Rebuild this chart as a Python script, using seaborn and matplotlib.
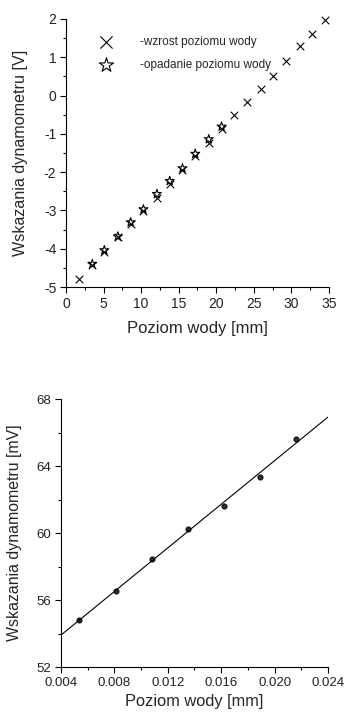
import numpy as np
import pandas as pd
import seaborn as sns
import matplotlib.pyplot as plt
from matplotlib.ticker import MultipleLocator, FormatStrFormatter

# gorny wykres - wzrost poziomu wody (x) i opadanie (gwiazdki)
wzrost_x = [1.7, 3.5, 5.1, 6.9, 8.6, 10.3, 12.1, 13.8, 15.5, 17.2, 19.0, 20.7,
            22.4, 24.1, 25.9, 27.6, 29.3, 31.1, 32.8, 34.5]
wzrost_y = [-4.79, -4.43, -4.09, -3.70, -3.36, -3.01, -2.68, -2.30, -1.94, -1.59,
            -1.25, -0.86, -0.52, -0.17, 0.16, 0.50, 0.89, 1.29, 1.61, 1.98]
opad_x = [3.5, 5.1, 6.9, 8.6, 10.3, 12.1, 13.8, 15.5, 17.2, 19.0, 20.7]
opad_y = [-4.40, -4.04, -3.68, -3.31, -2.97, -2.57, -2.23, -1.90, -1.52, -1.14, -0.81]

# dolny wykres
poziom = [0.00537, 0.00809, 0.01081, 0.01353, 0.01622, 0.01891, 0.02161]
wskazania = [54.79, 56.56, 58.46, 60.25, 61.64, 63.36, 65.65]

sns.set_style("ticks")
plt.rcParams['font.family'] = ['Liberation Sans', 'DejaVu Sans']
plt.rcParams['axes.unicode_minus'] = False

fig = plt.figure(figsize=(3.45, 7.14), dpi=100)
ax1 = fig.add_axes([0.1913, 0.598, 0.7623, 0.3754])
ax2 = fig.add_axes([0.1768, 0.0658, 0.7739, 0.375])

df_w = pd.DataFrame({"x": wzrost_x, "y": wzrost_y})
df_o = pd.DataFrame({"x": opad_x, "y": opad_y})
sns.scatterplot(data=df_w, x="x", y="y", marker="x", s=30, color="black",
                linewidth=0.8, ax=ax1, label="-wzrost poziomu wody", clip_on=False)
sns.scatterplot(data=df_o, x="x", y="y", marker="*", s=45, facecolor="none",
                edgecolor="black", linewidth=0.8, ax=ax1,
                label="-opadanie poziomu wody")
ax1.set_xlim(0, 35)
ax1.set_ylim(-5, 2)
ax1.xaxis.set_major_locator(MultipleLocator(5))
ax1.xaxis.set_minor_locator(MultipleLocator(2.5))
ax1.yaxis.set_major_locator(MultipleLocator(1))
ax1.yaxis.set_minor_locator(MultipleLocator(0.5))
ax1.set_xlabel("Poziom wody [mm]", fontsize=12)
ax1.set_ylabel("Wskazania dynamometru [V]", fontsize=11.6)
ax1.xaxis.set_label_coords(0.5, -0.125)
ax1.yaxis.set_label_coords(-0.144, 0.5)
leg = ax1.legend(loc="upper left", bbox_to_anchor=(0.109, 0.936), frameon=False,
                 fontsize=8.5, markerscale=1.6, handletextpad=1.8,
                 labelspacing=0.95, borderpad=0, borderaxespad=0)

df2 = pd.DataFrame({"poziom": poziom, "wskazania": wskazania})
ax2.set_xlim(0.004, 0.024)
ax2.set_ylim(52, 68)
sns.regplot(data=df2, x="poziom", y="wskazania", ci=None, truncate=False,
            color="black", scatter_kws={"s": 12}, line_kws={"linewidth": 0.8},
            ax=ax2)
ax2.set_xlim(0.004, 0.024)
ax2.xaxis.set_major_locator(MultipleLocator(0.004))
ax2.xaxis.set_minor_locator(MultipleLocator(0.002))
ax2.xaxis.set_major_formatter(FormatStrFormatter("%.3f"))
ax2.yaxis.set_major_locator(MultipleLocator(4))
ax2.yaxis.set_minor_locator(MultipleLocator(2))
ax2.set_xlabel("Poziom wody [mm]", fontsize=11.8)
ax2.set_ylabel("Wskazania dynamometru [mV]", fontsize=11.4)
ax2.xaxis.set_label_coords(0.5, -0.1)
ax2.yaxis.set_label_coords(-0.146, 0.5)

for ax, fs in ((ax1, 10), (ax2, 9.5)):
    sns.despine(ax=ax)
    for s in ("left", "bottom"):
        ax.spines[s].set_linewidth(0.8)
        ax.spines[s].set_color("black")
    ax.tick_params(which="major", length=4.5, width=0.8, color="black",
                   labelsize=fs, pad=2.5, labelcolor="#222222")
    ax.tick_params(which="minor", length=2.5, width=0.8, color="black")

plt.savefig("out.png", dpi=100)
